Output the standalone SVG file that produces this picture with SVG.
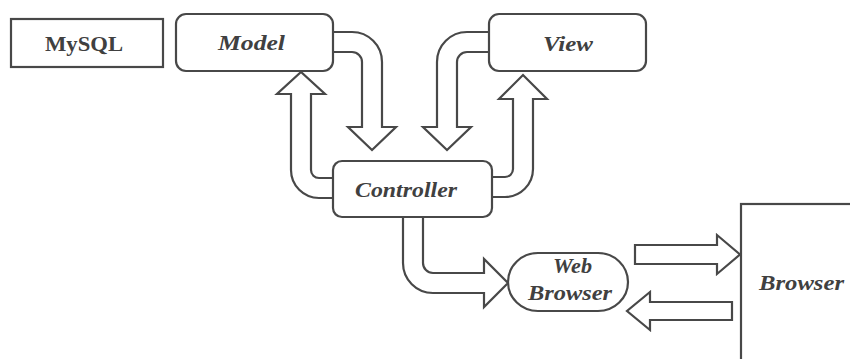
<svg xmlns="http://www.w3.org/2000/svg" width="850" height="359" viewBox="0 0 850 359">
<style>
.box{fill:#fff;stroke:#484848;stroke-width:2.2}
.arr{fill:#fff;stroke:#484848;stroke-width:2.2;stroke-linejoin:miter}
.t{font-family:"Liberation Serif","DejaVu Serif",serif;font-size:21px;fill:#404040}
.i{font-style:italic;font-weight:bold}
.n{font-weight:bold}
</style>
<rect width="850" height="359" fill="#fff"/>
<g id="connectors">
<path class="arr" d="M 326,32 H 352 A 30 30 0 0 1 382 62 V 127 H 396 L 372 150 L 348 127 H 362 V 62 A 10 10 0 0 0 352 52 H 326 Z"/>
<path class="arr" d="M 496,32 H 467 A 30 30 0 0 0 437 62 V 127 H 423 L 447 150 L 471 127 H 457 V 62 A 10 10 0 0 1 467 52 H 496 Z"/>
<path class="arr" d="M 340,178 H 319 A 8 8 0 0 1 311 170 V 94 H 325 L 301 72 L 277 94 H 291 V 170 A 28 28 0 0 0 319 198 H 340 Z"/>
<path class="arr" d="M 485,177 H 505 A 8 8 0 0 0 513 169 V 99 H 499 L 523 75 L 547 99 H 533 V 169 A 28 28 0 0 1 505 197 H 485 Z"/>
<path class="arr" d="M 403,210 V 263 A 30 30 0 0 0 433 293 H 484 V 307 L 508 283 L 484 259 V 273 H 433 A 10 10 0 0 1 423 263 V 210 Z"/>
<path class="arr" d="M 635,245 H 717 V 235 L 740 254.5 L 717 274 V 264 H 635 Z"/>
<path class="arr" d="M 732,302 H 650 V 292 L 627 311 L 650 330 V 320 H 732 Z"/>
</g>
<g id="mysql">
<rect class="box" x="11" y="19" width="152" height="48"/>
<text class="t n" x="45" y="51" textLength="78" lengthAdjust="spacingAndGlyphs">MySQL</text>
</g>
<g id="model">
<rect class="box" x="176" y="14" width="157" height="57" rx="10"/>
<text class="t i" x="218" y="50" textLength="67" lengthAdjust="spacingAndGlyphs">Model</text>
</g>
<g id="view">
<rect class="box" x="489" y="14" width="157" height="57" rx="10"/>
<text class="t i" x="543" y="51" textLength="50" lengthAdjust="spacingAndGlyphs">View</text>
</g>
<g id="controller">
<rect class="box" x="333" y="161" width="159" height="56" rx="9"/>
<text class="t i" x="355" y="197" textLength="102" lengthAdjust="spacingAndGlyphs">Controller</text>
</g>
<g id="webbrowser">
<rect class="box" x="508" y="253" width="120" height="58" rx="30" ry="29"/>
<text class="t i" x="553" y="273" textLength="39" lengthAdjust="spacingAndGlyphs">Web</text>
<text class="t i" x="528" y="300" textLength="84" lengthAdjust="spacingAndGlyphs">Browser</text>
</g>
<g id="browser">
<rect class="box" x="741" y="204" width="130" height="170"/>
<text class="t i" x="759" y="290" textLength="85" lengthAdjust="spacingAndGlyphs">Browser</text>
</g>
</svg>
